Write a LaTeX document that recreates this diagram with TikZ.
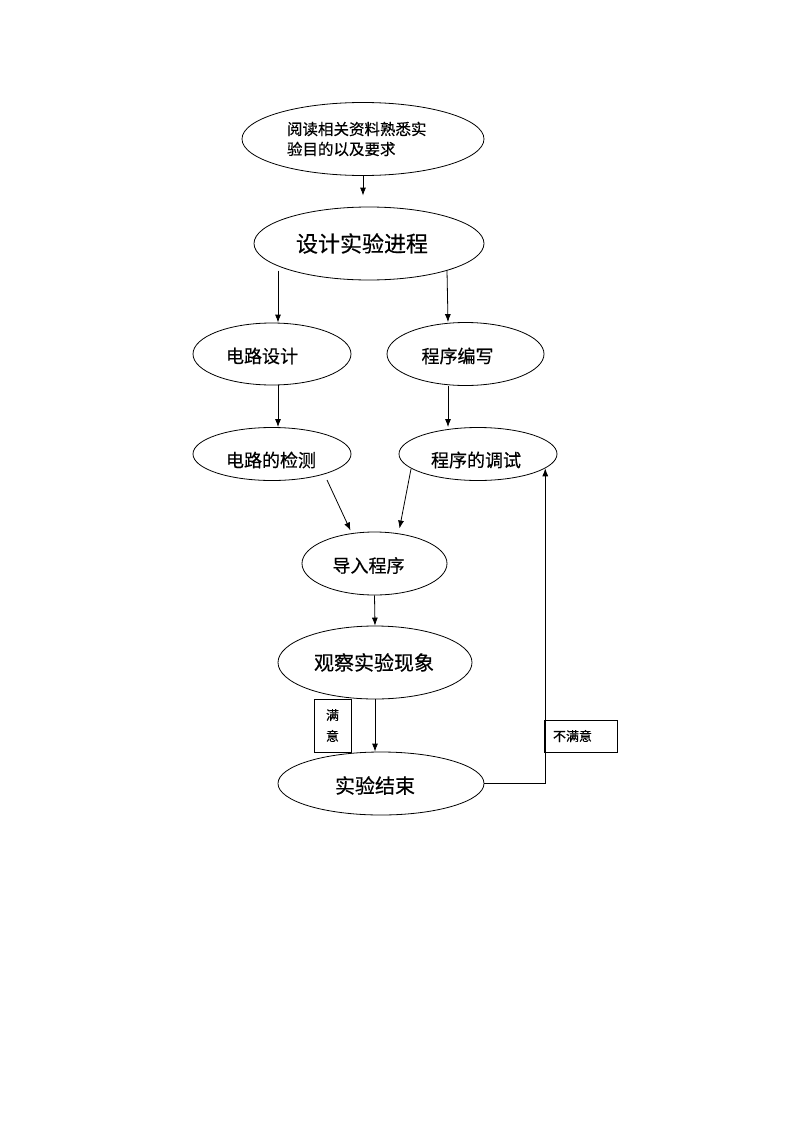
\documentclass[tikz,border=0pt]{standalone}
\usepackage{fontspec}
\setmainfont{Noto Sans CJK SC}[FakeBold=0.4]
\usetikzlibrary{shapes.geometric,arrows.meta}
\begin{document}
\begin{tikzpicture}[x=1pt,y=-1pt,
  every path/.style={line width=0.8pt},
  ell/.style={draw, ellipse, inner sep=0pt, line width=0.8pt},
  arr/.style={draw, -{Latex[length=8pt,width=6pt]}},
  txt/.style={inner sep=0pt},
  lbl/.style={draw, rectangle, inner sep=0pt, line width=0.8pt, font=\fontsize{13}{21}\selectfont}]
\useasboundingbox[fill=white] (0,0) rectangle (800,1132);
\node[ell, minimum width=242, minimum height=73,
  label={[txt, align=left, text width=146pt, xshift=-3pt, font=\fontsize{15.5}{20}\selectfont]center:阅读相关资料熟悉实\\验目的以及要求}] (read) at (363,139) {};
\node[ell, minimum width=230, minimum height=73,
  label={[txt, xshift=-7pt, font=\fontsize{22}{26}\selectfont]center:设计实验进程}] (design) at (369,243.5) {};
\node[ell, minimum width=158, minimum height=62,
  label={[txt, xshift=-10pt, yshift=-2pt, font=\fontsize{18}{22}\selectfont]center:电路设计}] (ckt) at (272,354) {};
\node[ell, minimum width=157, minimum height=63,
  label={[txt, xshift=-8pt, yshift=-2pt, font=\fontsize{18}{22}\selectfont]center:程序编写}] (prog) at (465.5,354) {};
\node[ell, minimum width=158, minimum height=53,
  label={[txt, xshift=-1pt, yshift=-6pt, font=\fontsize{18}{22}\selectfont]center:电路的检测}] (cktt) at (272,454) {};
\node[ell, minimum width=158, minimum height=53,
  label={[txt, xshift=-2pt, yshift=-6pt, font=\fontsize{18}{22}\selectfont]center:程序的调试}] (progt) at (478,454) {};
\node[ell, minimum width=145, minimum height=63,
  label={[txt, xshift=-6pt, yshift=-2pt, font=\fontsize{18}{22}\selectfont]center:导入程序}] (imp) at (374.5,563.5) {};
\node[ell, minimum width=194, minimum height=73,
  label={[txt, xshift=-1pt, font=\fontsize{20}{24}\selectfont]center:观察实验现象}] (obs) at (375,662.5) {};
\node[ell, minimum width=206, minimum height=63,
  label={[txt, xshift=-6pt, yshift=-2pt, font=\fontsize{20}{24}\selectfont]center:实验结束}] (fin) at (381,783.5) {};
\node[lbl, minimum width=37, minimum height=53, align=center] (ok) at (332.5,725.5) {满\\意};
\node[lbl, minimum width=73, minimum height=32, text width=55pt, inner xsep=9pt, align=left] (notok) at (580.5,736) {不满意};
% connectors
\draw[arr] (read.south) -- ([yshift=11pt]design.north -| read.south);
\draw[arr] ([shift={(-91,27)}]design.center) -- ([xshift=6pt]ckt.north);
\draw[arr] ([shift={(78,27)}]design.center) -- ([xshift=-17.5pt]prog.north);
\draw[arr] ([xshift=6pt]ckt.south) -- ([xshift=6pt]cktt.north);
\draw[arr] ([xshift=-17.5pt]prog.south) -- ([xshift=-30pt]progt.north);
\draw[arr] ([shift={(55,26)}]cktt.center) -- ([shift={(-24,-33)}]imp.center);
\draw[arr] ([shift={(-67,15)}]progt.center) -- ([shift={(25,-35)}]imp.center);
\draw[arr] (imp.south) -- (obs.north);
\draw[arr] (obs.south) -- (obs.south |- fin.north);
\draw[arr] (fin.east) -| (progt.-12.5);
\end{tikzpicture}
\end{document}
